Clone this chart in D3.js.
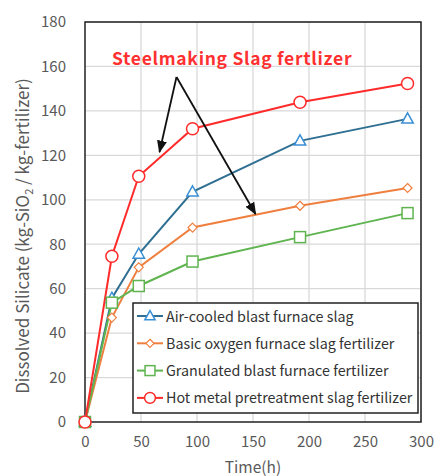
<!DOCTYPE html>
<html>
<head>
<meta charset="utf-8">
<script src="https://cdn.jsdelivr.net/npm/d3@7"></script>
<style>
  body { margin: 0; background: #fff; }
  svg text { font-family: "Noto Sans CJK JP", "Noto Sans", sans-serif; }
</style>
</head>
<body>
<svg id="chart" width="437" height="476"></svg>
<script>
// 時間 (h)
const hours = [0, 24, 48, 96, 192, 288];
// 各スラグの溶出ケイ酸量
const airCooled = [0, 55.7, 75.6, 103.6, 126.5, 136.4];
const basicOxygen = [0, 47, 69.6, 87.5, 97.3, 105.3];
const granulated = [0, 53.7, 61.2, 72.2, 83.2, 94];
const hotMetal = [0, 74.6, 110.6, 132, 143.9, 152.3];
const seriesNames = [
    "Air-cooled blast furnace slag",
    "Basic oxygen furnace slag fertilizer",
    "Granulated blast furnace fertilizer",
    "Hot metal pretreatment slag fertilizer"
];
const xTicks = [0, 50, 100, 150, 200, 250, 300];
const yTicks = [0, 20, 40, 60, 80, 100, 120, 140, 160, 180];

const series = [
    {name: seriesNames[0], values: airCooled, line: "#2f6f92", mark: "#3a8fd4", shape: "triangle"},
    {name: seriesNames[1], values: basicOxygen, line: "#ef7f3e", mark: "#ef7f3e", shape: "diamond"},
    {name: seriesNames[2], values: granulated, line: "#5fb44f", mark: "#5fb44f", shape: "square"},
    {name: seriesNames[3], values: hotMetal, line: "#ff2b2b", mark: "#ff2b2b", shape: "circle"}
];

const svg = d3.select("#chart");
const pL = 85, pR = 421, pT = 22, pB = 422;

const x = d3.scaleLinear().domain([0, 300]).range([pL, pR]);
const y = d3.scaleLinear().domain([0, 180]).range([pB, pT]);

// グリッド
svg.append("g").selectAll("line").data(yTicks.slice(1)).enter().append("line")
    .attr("x1", pL).attr("x2", pR)
    .attr("y1", d => y(d)).attr("y2", d => y(d))
    .attr("stroke", "#d9d9d9").attr("stroke-width", 1.3);
svg.append("g").selectAll("line").data(xTicks.slice(1)).enter().append("line")
    .attr("y1", pT).attr("y2", pB)
    .attr("x1", d => x(d)).attr("x2", d => x(d))
    .attr("stroke", "#d9d9d9").attr("stroke-width", 1.3);

// 軸
const xAxis = svg.append("g").attr("transform", `translate(0,${pB})`)
    .call(d3.axisBottom(x).tickValues(xTicks).tickSize(0).tickPadding(14));
const yAxis = svg.append("g").attr("transform", `translate(${pL},0)`)
    .call(d3.axisLeft(y).tickValues(yTicks).tickSize(0).tickPadding(19));
[xAxis, yAxis].forEach(a => {
    a.select(".domain").remove();
    a.selectAll("text").attr("font-size", 15).attr("fill", "#595959")
        .style("font-family", '"Noto Sans CJK JP", sans-serif');
});

// 枠
svg.append("rect").attr("x", pL).attr("y", pT)
    .attr("width", pR - pL).attr("height", pB - pT)
    .attr("fill", "none").attr("stroke", "#222").attr("stroke-width", 1.5);

// 軸タイトル
svg.append("text").attr("x", 253).attr("y", 473).attr("text-anchor", "middle")
    .attr("font-size", 15.5).attr("fill", "#595959").text("Time(h)");
const yt = svg.append("text").attr("transform", "translate(29,236) rotate(-90)")
    .attr("text-anchor", "middle").attr("font-size", 17).attr("fill", "#595959");
yt.append("tspan").text("Dissolved Silicate (kg-SiO");
yt.append("tspan").attr("font-size", 11).attr("dy", 4).text("2");
yt.append("tspan").attr("dy", -4).text(" / kg-fertilizer)");

function marker(g, shape, color, k) {
    if (shape === "circle") {
        g.append("circle").attr("r", 6 * k).attr("fill", "#fff").attr("stroke", color).attr("stroke-width", 1.5);
    } else if (shape === "square") {
        const s = 11 * k;
        g.append("rect").attr("x", -s / 2).attr("y", -s / 2).attr("width", s).attr("height", s)
            .attr("fill", "#fff").attr("stroke", color).attr("stroke-width", 1.5);
    } else if (shape === "triangle") {
        const s = 6 * k;
        g.append("path").attr("d", `M0,${-s}L${s * 0.95},${s * 0.7}L${-s * 0.95},${s * 0.7}Z`)
            .attr("fill", "#fff").attr("stroke", color).attr("stroke-width", 1.5);
    } else {
        const s = 4.5 * k;
        g.append("path").attr("d", `M0,${-s}L${s},0L0,${s}L${-s},0Z`)
            .attr("fill", "#fff").attr("stroke", color).attr("stroke-width", 1.2);
    }
}

const line = d3.line().x((d, i) => x(hours[i])).y(d => y(d));
series.forEach(s => {
    svg.append("path").datum(s.values).attr("d", line)
        .attr("fill", "none").attr("stroke", s.line).attr("stroke-width", 2);
});
series.forEach(s => {
    s.values.forEach((v, i) => {
        const g = svg.append("g").attr("transform", `translate(${x(hours[i])},${y(v)})`);
        marker(g, s.shape, s.mark, 1);
    });
});

// 注釈
svg.append("text").attr("x", 112).attr("y", 65)
    .attr("font-size", 17.5).attr("font-weight", "bold").attr("fill", "#ff3030")
    .attr("letter-spacing", 0.7)
    .text("Steelmaking Slag fertlizer");
const defs = svg.append("defs");
defs.append("marker").attr("id", "ah").attr("viewBox", "0 0 10 10")
    .attr("refX", 9).attr("refY", 5).attr("markerWidth", 7).attr("markerHeight", 7)
    .attr("orient", "auto-start-reverse")
    .append("path").attr("d", "M0,1L10,5L0,9Z").attr("fill", "#111");
const arrowFrom = [176.5, 77];
[[159.5, 152], [255.5, 214]].forEach(t => {
    svg.append("line").attr("x1", arrowFrom[0]).attr("y1", arrowFrom[1])
        .attr("x2", t[0]).attr("y2", t[1])
        .attr("stroke", "#111").attr("stroke-width", 1.8).attr("marker-end", "url(#ah)");
});

// 凡例
const lg = svg.append("g");
lg.append("rect").attr("x", 133).attr("y", 303).attr("width", 285).attr("height", 110)
    .attr("fill", "#fff").attr("stroke", "#222").attr("stroke-width", 1.5);
series.forEach((s, i) => {
    const cy = 316 + i * 27.3;
    lg.append("line").attr("x1", 137).attr("x2", 163).attr("y1", cy).attr("y2", cy)
        .attr("stroke", s.line).attr("stroke-width", 2);
    marker(lg.append("g").attr("transform", `translate(150,${cy})`), s.shape, s.mark, 0.9);
    lg.append("text").attr("x", 166).attr("y", cy + 5.5).attr("font-size", 14.3)
        .attr("fill", "#333").text(s.name);
});
</script>
</body>
</html>
